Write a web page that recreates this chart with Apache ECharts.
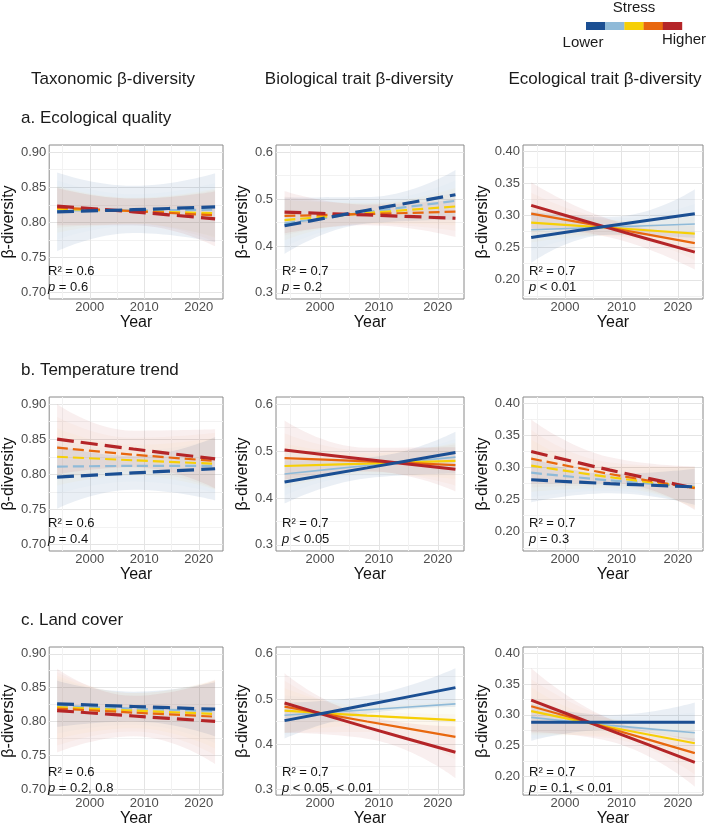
<!DOCTYPE html>
<html>
<head>
<meta charset="utf-8">
<title>β-diversity trends</title>
<script src="https://cdn.jsdelivr.net/npm/echarts@6.0.0/dist/echarts.min.js"></script>
<style>
    html, body { margin: 0; padding: 0; background: #ffffff; }
    #chart { width: 709px; height: 828px; }
</style>
</head>
<body>
<div id="chart"></div>
<script>
var years = [1994, 2008, 2023];
var stressNames = ['Lowest', 'Low', 'Medium', 'High', 'Highest'];
var stressColors = ['#1b4f93', '#8fbad8', '#f6cf06', '#e8670e', '#b42528'];

var colTitles = ['Taxonomic β-diversity', 'Biological trait β-diversity', 'Ecological trait β-diversity'];
var rowTitles = ['a. Ecological quality', 'b. Temperature trend', 'c. Land cover'];

var xMajor = [2000, 2010, 2020];
var xMinor = [1995, 2005, 2015];
var yMajor = [[0.70, 0.75, 0.80, 0.85, 0.90], [0.3, 0.4, 0.5, 0.6], [0.20, 0.25, 0.30, 0.35, 0.40]];
var yMinor = [[0.725, 0.775, 0.825, 0.875], [0.35, 0.45, 0.55], [0.175, 0.225, 0.275, 0.325, 0.375]];
var yLimits = [[0.691, 0.910], [0.287, 0.615], [0.170, 0.410]];

// a. Ecological quality
var qualityTaxMean = [[0.815, 0.818, 0.822], [0.817, 0.817, 0.818], [0.819, 0.816, 0.813], [0.821, 0.816, 0.810], [0.823, 0.815, 0.805]];
var qualityTaxLo   = [[0.759, 0.785, 0.772], [0.775, 0.795, 0.780], [0.785, 0.798, 0.778], [0.792, 0.798, 0.772], [0.796, 0.796, 0.766]];
var qualityTaxHi   = [[0.871, 0.852, 0.870], [0.860, 0.840, 0.856], [0.852, 0.835, 0.848], [0.850, 0.834, 0.846], [0.849, 0.834, 0.844]];

var qualityBioMean = [[0.443, 0.476, 0.509], [0.448, 0.472, 0.496], [0.455, 0.470, 0.484], [0.464, 0.468, 0.473], [0.472, 0.466, 0.459]];
var qualityBioLo   = [[0.383, 0.448, 0.456], [0.398, 0.448, 0.452], [0.412, 0.448, 0.444], [0.422, 0.446, 0.432], [0.427, 0.444, 0.419]];
var qualityBioHi   = [[0.503, 0.504, 0.562], [0.498, 0.496, 0.540], [0.498, 0.492, 0.524], [0.506, 0.490, 0.514], [0.517, 0.488, 0.499]];

var qualityEcoMean = [[0.266, 0.284, 0.303], [0.278, 0.282, 0.287], [0.289, 0.281, 0.272], [0.303, 0.281, 0.257], [0.316, 0.280, 0.243]];
var qualityEcoLo   = [[0.226, 0.270, 0.265], [0.245, 0.270, 0.258], [0.258, 0.269, 0.245], [0.270, 0.268, 0.230], [0.280, 0.266, 0.216]];
var qualityEcoHi   = [[0.306, 0.298, 0.341], [0.311, 0.295, 0.318], [0.320, 0.293, 0.299], [0.336, 0.294, 0.284], [0.352, 0.294, 0.270]];

// b. Temperature trend
var tempTaxMean = [[0.796, 0.802, 0.808], [0.811, 0.812, 0.812], [0.825, 0.820, 0.815], [0.838, 0.828, 0.819], [0.850, 0.836, 0.822]];
var tempTaxLo   = [[0.751, 0.778, 0.763], [0.772, 0.790, 0.774], [0.784, 0.798, 0.778], [0.794, 0.804, 0.779], [0.800, 0.810, 0.780]];
var tempTaxHi   = [[0.841, 0.826, 0.853], [0.851, 0.834, 0.850], [0.866, 0.842, 0.852], [0.882, 0.852, 0.859], [0.900, 0.862, 0.864]];

var tempBioMean = [[0.434, 0.464, 0.497], [0.451, 0.469, 0.487], [0.468, 0.473, 0.479], [0.485, 0.478, 0.470], [0.502, 0.482, 0.461]];
var tempBioLo   = [[0.388, 0.442, 0.452], [0.405, 0.448, 0.448], [0.420, 0.451, 0.440], [0.432, 0.455, 0.426], [0.439, 0.457, 0.414]];
var tempBioHi   = [[0.480, 0.486, 0.541], [0.497, 0.490, 0.526], [0.516, 0.495, 0.518], [0.538, 0.501, 0.514], [0.565, 0.507, 0.508]];

var tempEcoMean = [[0.281, 0.275, 0.270], [0.292, 0.280, 0.270], [0.303, 0.285, 0.269], [0.314, 0.290, 0.268], [0.325, 0.296, 0.268]];
var tempEcoLo   = [[0.246, 0.260, 0.242], [0.254, 0.264, 0.239], [0.262, 0.268, 0.237], [0.269, 0.272, 0.235], [0.275, 0.276, 0.234]];
var tempEcoHi   = [[0.316, 0.290, 0.298], [0.330, 0.296, 0.300], [0.344, 0.302, 0.301], [0.359, 0.308, 0.301], [0.375, 0.316, 0.302]];

// c. Land cover
var landTaxMean = [[0.826, 0.822, 0.818], [0.823, 0.819, 0.815], [0.821, 0.816, 0.811], [0.819, 0.813, 0.807], [0.816, 0.808, 0.800]];
var landTaxLo   = [[0.792, 0.800, 0.778], [0.782, 0.795, 0.768], [0.774, 0.790, 0.760], [0.764, 0.785, 0.750], [0.754, 0.778, 0.737]];
var landTaxHi   = [[0.860, 0.844, 0.858], [0.864, 0.843, 0.860], [0.868, 0.842, 0.861], [0.873, 0.842, 0.862], [0.878, 0.838, 0.861]];

var landBioMean = [[0.452, 0.487, 0.525], [0.464, 0.476, 0.489], [0.474, 0.463, 0.453], [0.483, 0.450, 0.416], [0.491, 0.437, 0.382]];
var landBioLo   = [[0.412, 0.467, 0.482], [0.420, 0.455, 0.445], [0.424, 0.441, 0.410], [0.425, 0.427, 0.366], [0.425, 0.412, 0.325]];
var landBioHi   = [[0.492, 0.507, 0.568], [0.508, 0.497, 0.533], [0.524, 0.485, 0.496], [0.541, 0.473, 0.466], [0.557, 0.462, 0.439]];

var landEcoMean = [[0.288, 0.288, 0.288], [0.296, 0.283, 0.271], [0.306, 0.280, 0.254], [0.314, 0.278, 0.238], [0.324, 0.275, 0.223]];
var landEcoLo   = [[0.258, 0.276, 0.257], [0.262, 0.270, 0.238], [0.267, 0.266, 0.220], [0.270, 0.262, 0.203], [0.272, 0.257, 0.184]];
var landEcoHi   = [[0.318, 0.300, 0.320], [0.330, 0.296, 0.304], [0.345, 0.294, 0.288], [0.358, 0.294, 0.273], [0.376, 0.293, 0.262]];

var panels = [
    {mean: qualityTaxMean, lo: qualityTaxLo, hi: qualityTaxHi, dashed: true,  r2: '0.6', p: '= 0.6'},
    {mean: qualityBioMean, lo: qualityBioLo, hi: qualityBioHi, dashed: true,  r2: '0.7', p: '= 0.2'},
    {mean: qualityEcoMean, lo: qualityEcoLo, hi: qualityEcoHi, dashed: false, r2: '0.7', p: '< 0.01'},
    {mean: tempTaxMean, lo: tempTaxLo, hi: tempTaxHi, dashed: true,  r2: '0.6', p: '= 0.4'},
    {mean: tempBioMean, lo: tempBioLo, hi: tempBioHi, dashed: false, r2: '0.7', p: '< 0.05'},
    {mean: tempEcoMean, lo: tempEcoLo, hi: tempEcoHi, dashed: true,  r2: '0.7', p: '= 0.3'},
    {mean: landTaxMean, lo: landTaxLo, hi: landTaxHi, dashed: true,  r2: '0.6', p: '= 0.2, 0.8'},
    {mean: landBioMean, lo: landBioLo, hi: landBioHi, dashed: false, r2: '0.7', p: '< 0.05, < 0.01'},
    {mean: landEcoMean, lo: landEcoLo, hi: landEcoHi, dashed: false, r2: '0.7', p: '= 0.1, < 0.01'}
];

// layout (px)
var gridLeft = [42, 276, 523];
var gridWidth = [181, 188, 180];
var gridTop = [145, 397, 647];
var gridHeight = [154, 154, 153];
var yNameGap = [26, 19, 27];

var FONT = 'Liberation Sans, Arial, sans-serif';
var MAJOR = '#e4e4e4', MINOR = '#f2f2f2';
var bandOpacity = [0.09, 0.03, 0.03, 0.03, 0.075];
var solidWidth = [3, 1.6, 2.2, 2.2, 3];
var dashWidth = [3.2, 2.2, 2.2, 2.2, 3.2];
var drawOrder = [1, 2, 3, 4, 0];

function gridValues(major, minor) {
    var all = major.concat(minor).sort(function (a, b) { return a - b; });
    return {
        values: all,
        colors: all.map(function (v) { return major.indexOf(v) >= 0 ? MAJOR : MINOR; })
    };
}

var grids = [], xAxes = [], yAxes = [], series = [], graphics = [];

panels.forEach(function (pn, k) {
    var r = Math.floor(k / 3), c = k % 3;
    grids.push({
        left: gridLeft[c], top: gridTop[r], width: gridWidth[c], height: gridHeight[r],
        show: true, borderColor: '#8a8a8a', borderWidth: 1, backgroundColor: '#ffffff'
    });
    var xg = gridValues(xMajor, xMinor);
    xAxes.push({
        type: 'value', gridIndex: k, min: 1992.55, max: 2024.45,
        name: 'Year', nameLocation: 'middle', nameGap: 14,
        nameTextStyle: {fontSize: 16, color: '#111', fontFamily: FONT},
        axisLine: {show: false},
        axisTick: {show: false, customValues: xg.values},
        axisLabel: {customValues: xMajor, fontSize: 13, color: '#4d4d4d', margin: 2, fontFamily: FONT,
            formatter: function (v) { return String(Math.round(v)); }},
        splitLine: {show: true, lineStyle: {color: xg.colors, width: 1}}
    });
    var yg = gridValues(yMajor[c], yMinor[c]);
    yAxes.push({
        type: 'value', gridIndex: k, min: yLimits[c][0], max: yLimits[c][1],
        name: 'β-diversity', nameLocation: 'middle', nameGap: yNameGap[c],
        nameTextStyle: {fontSize: 16, color: '#111', fontFamily: FONT},
        axisLine: {show: false},
        axisTick: {show: false, customValues: yg.values},
        axisLabel: {customValues: yMajor[c], fontSize: 13, color: '#4d4d4d', margin: 3, fontFamily: FONT,
            formatter: function (v) { return v.toFixed(c === 1 ? 1 : 2); }},
        splitLine: {show: true, lineStyle: {color: yg.colors, width: 1}}
    });

    // confidence bands: invisible lower edge + stacked width, values first so y is the stacked dim
    for (var s = 0; s < 5; s++) {
        var stackId = 'band' + k + '_' + s;
        series.push({
            type: 'line', xAxisIndex: k, yAxisIndex: k, stack: stackId, silent: true,
            encode: {x: 1, y: 0}, symbol: 'none', smooth: 0.5,
            lineStyle: {opacity: 0},
            data: years.map(function (yr, i) { return [pn.lo[s][i], yr]; })
        });
        series.push({
            type: 'line', xAxisIndex: k, yAxisIndex: k, stack: stackId, silent: true,
            encode: {x: 1, y: 0}, symbol: 'none', smooth: 0.5,
            lineStyle: {opacity: 0},
            areaStyle: {color: stressColors[s], opacity: bandOpacity[s]},
            data: years.map(function (yr, i) { return [pn.hi[s][i] - pn.lo[s][i], yr]; })
        });
    }
    // fitted lines
    drawOrder.forEach(function (s) {
        var w = pn.dashed ? dashWidth[s] : solidWidth[s];
        series.push({
            name: stressNames[s], type: 'line', xAxisIndex: k, yAxisIndex: k,
            symbol: 'none', smooth: 0.3, silent: true,
            lineStyle: {
                color: stressColors[s], width: w,
                type: pn.dashed ? (w > 3 ? [17, 7] : [11, 5]) : 'solid',
                cap: 'butt'
            },
            data: years.map(function (yr, i) { return [yr, pn.mean[s][i]]; })
        });
    });

    // statistics text inside the panel
    var tx = gridLeft[c] + 6, by = gridTop[r] + gridHeight[r];
    graphics.push({type: 'text', left: tx, top: by - 34, z: 100,
        style: {text: 'R² = ' + pn.r2, fontSize: 13, fill: '#111', fontFamily: FONT}});
    graphics.push({type: 'text', left: tx, top: by - 18, z: 100,
        style: {text: '{i|p} ' + pn.p, fontSize: 13, fill: '#111', fontFamily: FONT,
            rich: {i: {fontStyle: 'italic', fontSize: 13, fill: '#111', fontFamily: FONT}}}});
});

// column and row headings
var colCenter = [113, 359, 605];
colTitles.forEach(function (t, c) {
    graphics.push({type: 'text', x: colCenter[c], y: 79, z: 100,
        style: {text: t, fontSize: 17, fill: '#1a1a1a', fontFamily: FONT, align: 'center', verticalAlign: 'middle'}});
});
rowTitles.forEach(function (t, r) {
    graphics.push({type: 'text', x: 21, y: gridTop[r] - 27, z: 100,
        style: {text: t, fontSize: 17, fill: '#1a1a1a', fontFamily: FONT, align: 'left', verticalAlign: 'middle'}});
});

// stress colour key
stressColors.forEach(function (col, i) {
    graphics.push({type: 'rect', shape: {x: 586 + i * 19.2, y: 22, width: 19.4, height: 8}, style: {fill: col}});
});
graphics.push({type: 'text', x: 634, y: 8, z: 100,
    style: {text: 'Stress', fontSize: 15, fill: '#1a1a1a', fontFamily: FONT, align: 'center', verticalAlign: 'middle'}});
graphics.push({type: 'text', x: 583, y: 43, z: 100,
    style: {text: 'Lower', fontSize: 15, fill: '#1a1a1a', fontFamily: FONT, align: 'center', verticalAlign: 'middle'}});
graphics.push({type: 'text', x: 684, y: 40, z: 100,
    style: {text: 'Higher', fontSize: 15, fill: '#1a1a1a', fontFamily: FONT, align: 'center', verticalAlign: 'middle'}});

var chart = echarts.init(document.getElementById('chart'));
chart.setOption({
    animation: false,
    backgroundColor: '#ffffff',
    textStyle: {fontFamily: FONT},
    grid: grids,
    xAxis: xAxes,
    yAxis: yAxes,
    series: series,
    graphic: graphics
});
</script>
</body>
</html>
